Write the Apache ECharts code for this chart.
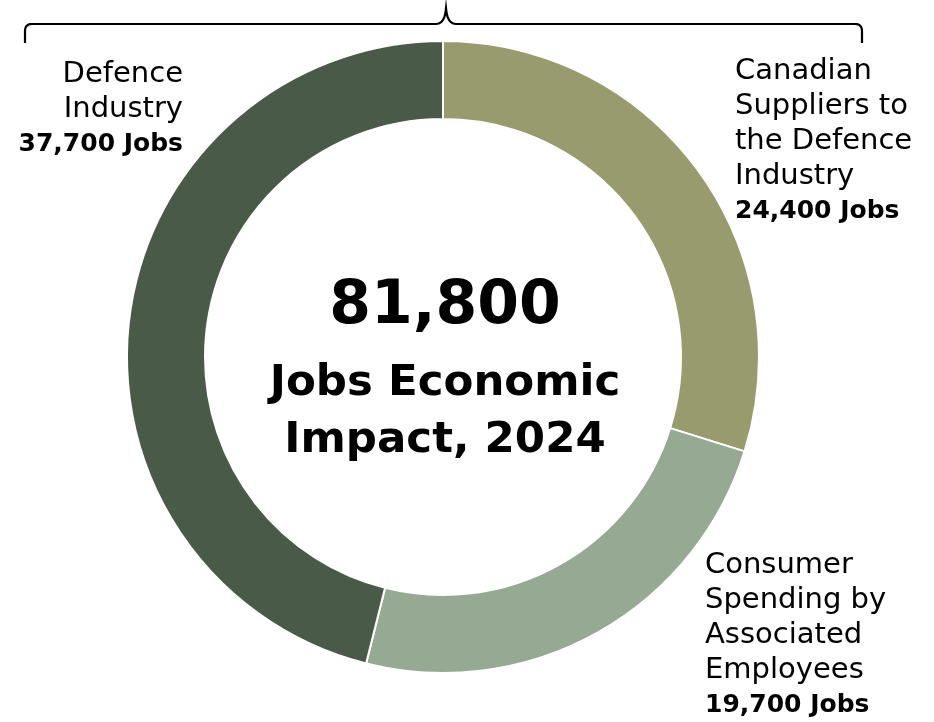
<!DOCTYPE html>
<html>
<head>
<meta charset="utf-8">
<script src="https://cdn.jsdelivr.net/npm/echarts@6/dist/echarts.min.js"></script>
<style>html,body{margin:0;padding:0;background:#fff}#c{width:934px;height:722px}</style>
</head>
<body>
<div id="c"></div>
<script>
// Data
const categories = ['Canadian Suppliers to the Defence Industry', 'Consumer Spending by Associated Employees', 'Defence Industry'];
const labelLines = [
  ['Canadian', 'Suppliers to', 'the Defence', 'Industry'],
  ['Consumer', 'Spending by', 'Associated', 'Employees'],
  ['Defence', 'Industry']
];
const jobs = [24400, 19700, 37700];
const centerLines = ['Jobs Economic', 'Impact, 2024'];

const colors = ['#979b6e', '#95a993', '#4a5a48'];
const FONT = 'DejaVu Sans';
const total = jobs.reduce((a, b) => a + b, 0);
const fmt = v => v.toLocaleString('en-US');

// label placement (style)
const labelPos = [
  { x: 735, y: 54, align: 'left' },
  { x: 705, y: 548, align: 'left' },
  { x: 183, y: 57, align: 'right' }
];

// bracket shape (decoration)
function quad(p0, p1, p2, n) {
  const pts = [];
  for (let i = 1; i <= n; i++) {
    const t = i / n, u = 1 - t;
    pts.push([u*u*p0[0] + 2*u*t*p1[0] + t*t*p2[0], u*u*p0[1] + 2*u*t*p1[1] + t*t*p2[1]]);
  }
  return pts;
}
const bracket = [[25, 43], [25, 31]]
  .concat(quad([25, 31], [25, 24], [32, 24], 6))
  .concat([[436, 24]])
  .concat(quad([436, 24], [445, 24], [446, 8], 6))
  .concat(quad([446, 8], [447, 24], [456, 24], 6))
  .concat([[855, 24]])
  .concat(quad([855, 24], [862, 24], [862, 31], 6))
  .concat([[862, 43]]);

const chart = echarts.init(document.getElementById('c'), null, { renderer: 'canvas' });
chart.setOption({
  animation: false,
  series: [{
    type: 'pie',
    center: [443, 357],
    radius: [238, 316],
    startAngle: 90,
    clockwise: true,
    avoidLabelOverlap: false,
    itemStyle: { borderColor: '#fff', borderWidth: 2 },
    label: {
      show: true,
      position: 'outside',
      fontFamily: FONT,
      formatter: p => labelLines[p.dataIndex].map(s => '{n|' + s + '}').join('\n') + '\n{b|' + fmt(p.value) + ' Jobs}',
      rich: {
        n: { fontFamily: FONT, fontSize: 29, color: '#000', lineHeight: 35 },
        b: { fontFamily: FONT, fontSize: 25, fontWeight: 'bold', color: '#000', lineHeight: 35 }
      }
    },
    labelLine: { show: false },
    labelLayout: p => {
      const l = labelPos[p.dataIndex];
      return { x: l.x, y: l.y, align: l.align, verticalAlign: 'top' };
    },
    emphasis: { disabled: true },
    data: categories.map((c, i) => ({ name: c, value: jobs[i], itemStyle: { color: colors[i] } }))
  }],
  graphic: [
    {
      type: 'text', x: 445, y: 307,
      style: { text: fmt(total), fontFamily: FONT, fontWeight: 'bold', fontSize: 60, fill: '#000', textAlign: 'center', textVerticalAlign: 'middle' }
    },
    {
      type: 'text', x: 445, y: 384,
      style: { text: centerLines[0], fontFamily: FONT, fontWeight: 'bold', fontSize: 43.5, fill: '#000', textAlign: 'center', textVerticalAlign: 'middle' }
    },
    {
      type: 'text', x: 445, y: 441,
      style: { text: centerLines[1], fontFamily: FONT, fontWeight: 'bold', fontSize: 43.5, fill: '#000', textAlign: 'center', textVerticalAlign: 'middle' }
    },
    {
      type: 'polyline',
      shape: { points: bracket },
      style: { stroke: '#000', lineWidth: 2.2, fill: null }
    }
  ]
});
</script>
</body>
</html>
